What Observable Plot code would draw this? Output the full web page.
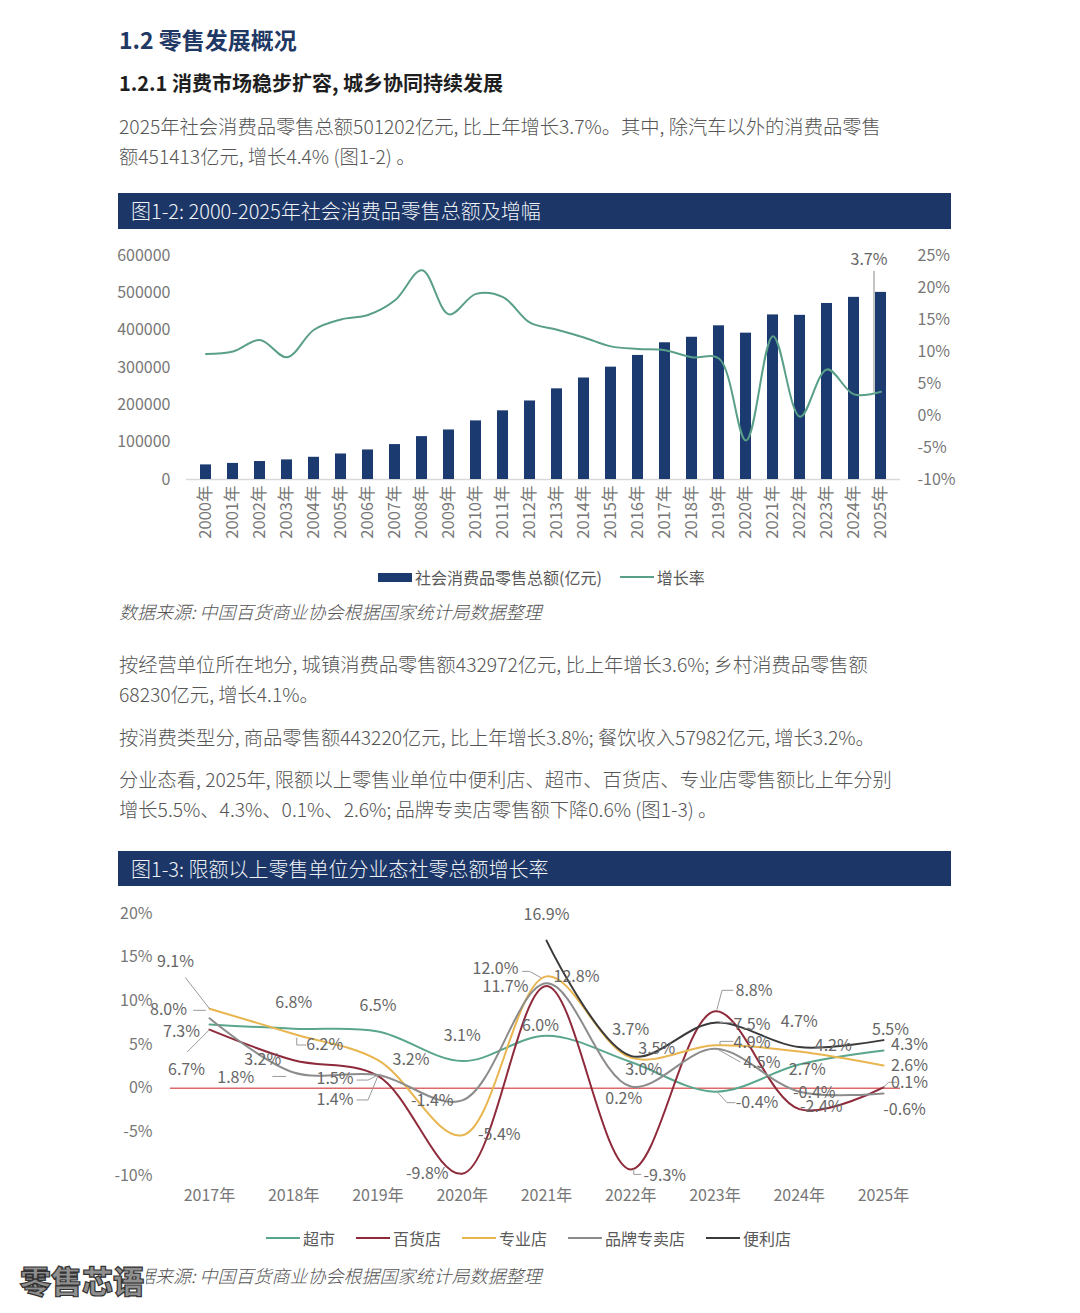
<!DOCTYPE html>
<html><head><meta charset="utf-8">
<script src="https://cdn.jsdelivr.net/npm/d3@7"></script>
<script src="https://cdn.jsdelivr.net/npm/@observablehq/plot@0.6"></script>
<style>
body{margin:0;background:#fff;font-family:"Noto Sans CJK SC","Noto Sans",sans-serif;}
#page{position:relative;width:1080px;height:1313px;overflow:hidden;background:#fff;}
.t{position:absolute;white-space:nowrap;transform:translateY(-50%);line-height:1.3;}
.banner{position:absolute;left:118px;width:833px;background:#1c3767;}
.chart{position:absolute;}
.legend{position:absolute;display:flex;align-items:center;font-size:16px;color:#595959;transform:translateY(-50%);white-space:nowrap;}
.legend .item{display:flex;align-items:center;}
</style></head><body><div id="page"></div>
<script>
// ---------- Figure 1-2 data ----------
const years1 = ["2000年","2001年","2002年","2003年","2004年","2005年","2006年","2007年","2008年","2009年","2010年","2011年","2012年","2013年","2014年","2015年","2016年","2017年","2018年","2019年","2020年","2021年","2022年","2023年","2024年","2025年"];
const retailTotal = [39106,43055,48136,52516,59501,68353,79145,93572,114830,132678,156998,183919,210307,242843,271896,300931,332316,366262,380987,411649,391981,440823,439733,471495,487895,501202];
const growthRate = [9.6,10.0,11.8,9.1,13.4,15.0,15.7,18.0,22.7,15.8,19.0,18.5,14.5,13.4,12.2,10.8,10.4,10.2,9.1,8.9,-3.9,12.4,-0.2,7.2,3.3,3.7];
const leftTicks = [0,100000,200000,300000,400000,500000,600000];
const rightTicks = [-10,-5,0,5,10,15,20,25];
const legend1Names = ["社会消费品零售总额(亿元)","增长率"];

// ---------- Figure 1-3 data ----------
const years2 = [2017,2018,2019,2020,2021,2022,2023,2024,2025];
const seriesNames = ["超市","百货店","专业店","品牌专卖店","便利店"];
const supermarket = [7.3,6.8,6.5,3.1,6.0,3.0,-0.4,2.7,4.3];
const deptStore   = [6.7,3.2,1.4,-9.8,11.7,-9.3,8.8,-2.4,0.1];
const specialty   = [9.1,6.2,3.2,-5.4,12.8,3.5,4.9,4.2,2.6];
const brandStore  = [8.0,1.8,1.5,-1.4,12.0,0.2,4.5,-0.4,-0.6];
const convenience = [null,null,null,null,16.9,3.7,7.5,4.7,5.5];
const pctTicks = [-10,-5,0,5,10,15,20];

// ---------- styles ----------
const navy = "#1b3a70";
const growthColor = "#5a9f88";
const seriesColors = ["#5aa68c","#8e2a3a","#e8b54e","#8c8c8c","#3a3a3a"];
const FONT = '"Noto Sans CJK SC","Noto Sans",sans-serif';

const page = document.getElementById("page");
function addText(txt, x, cy, css){
  const d = document.createElement("div");
  d.className = "t"; d.textContent = txt;
  d.style.left = x + "px"; d.style.top = cy + "px";
  Object.assign(d.style, css || {});
  page.appendChild(d); return d;
}
const h1 = {fontSize:"23px",fontWeight:"700",color:"#1f3864"};
const h2 = {fontSize:"20px",fontWeight:"700",color:"#1e1e1e"};
const body = {fontSize:"19.3px",fontWeight:"300",color:"#555"};
const src = {fontSize:"18px",fontWeight:"300",fontStyle:"italic",color:"#555"};

addText("1.2 零售发展概况",119,40,h1);
addText("1.2.1 消费市场稳步扩容, 城乡协同持续发展",119,83,h2);
addText("2025年社会消费品零售总额501202亿元, 比上年增长3.7%。其中, 除汽车以外的消费品零售",119,127,body);
addText("额451413亿元, 增长4.4% (图1-2) 。",119,157,body);

function banner(txt, top, h){
  const b = document.createElement("div");
  b.className = "banner"; b.style.top = top+"px"; b.style.height = h+"px";
  page.appendChild(b);
  addText(txt,131,top+h/2,{fontSize:"20px",fontWeight:"300",color:"#f2f4f8"});
}
banner("图1-2: 2000-2025年社会消费品零售总额及增幅",193,36);

// ---------- Chart 1 ----------
const data1 = years1.map((year,i)=>({year, total: retailTotal[i], growth: growthRate[i]}));
const yMax = 600000, gMin = -10, gMax = 25;
const g2y = g => (g - gMin) / (gMax - gMin) * yMax;
const y2g = v => v / yMax * (gMax - gMin) + gMin;
const H1 = 320, mT1 = 15, mB1 = 81;
const pxToY1 = yMax / (H1 - mT1 - mB1);
const last1 = data1[data1.length-1];

const chart1 = Plot.plot({
  width: 860, height: H1,
  marginTop: mT1, marginBottom: mB1, marginLeft: 76, marginRight: 70,
  style: {fontFamily: FONT, fontSize: "16px", color: "#777", background: "transparent", overflow: "visible"},
  x: {type: "band", domain: years1, paddingInner: 0.6, paddingOuter: 0.3},
  y: {domain: [0, yMax]},
  marks: [
    Plot.axisY({ticks: leftTicks, tickSize: 0, tickPadding: 16, tickFormat: d => String(d), label: null}),
    Plot.axisY({anchor: "right", ticks: rightTicks.map(g2y), tickSize: 0, tickPadding: 17, tickFormat: v => Math.round(y2g(v)) + "%", label: null}),
    Plot.axisX({tickSize: 0, tickRotate: -90, tickPadding: 6, label: null, fontSize: 16.5}),
    Plot.ruleY([0], {stroke: "#d9d9d9", strokeWidth: 1.5}),
    Plot.barY(data1, {x: "year", y: "total", fill: navy}),
    Plot.line(data1, {x: "year", y: d => g2y(d.growth), stroke: growthColor, strokeWidth: 2, curve: "catmull-rom"}),
    Plot.link([last1], {x1: "year", x2: "year", y1: d => g2y(d.growth), y2: d => g2y(d.growth) + 121 * pxToY1, stroke: "#8a8a8a", strokeWidth: 1, dx: -7}),
    Plot.text([last1], {x: "year", y: d => g2y(d.growth), text: d => d.growth.toFixed(1) + "%", dx: -12, dy: -132, fill: "#666", fontSize: 16})
  ]
});
chart1.classList.add("chart");
chart1.style.left = "110px"; chart1.style.top = "240px";
page.appendChild(chart1);

function legend(items, left, cy){
  const L = document.createElement("div");
  L.className = "legend"; L.style.left = left+"px"; L.style.top = cy+"px";
  items.forEach((it,i)=>{
    const s = document.createElement("div"); s.className = "item";
    if (i>0) s.style.marginLeft = it.gap + "px";
    const sw = document.createElement("div");
    sw.style.width = it.w + "px"; sw.style.height = it.h + "px"; sw.style.background = it.color; sw.style.marginRight = "3px";
    const tx = document.createElement("span"); tx.textContent = it.name;
    s.appendChild(sw); s.appendChild(tx); L.appendChild(s);
  });
  page.appendChild(L);
}
legend([{name: legend1Names[0], color: navy, w: 34, h: 9, gap: 0},
        {name: legend1Names[1], color: growthColor, w: 34, h: 2, gap: 18}], 378, 577);

addText("数据来源: 中国百货商业协会根据国家统计局数据整理",119,612,src);

addText("按经营单位所在地分, 城镇消费品零售额432972亿元, 比上年增长3.6%; 乡村消费品零售额",119,665,body);
addText("68230亿元, 增长4.1%。",119,695,body);
addText("按消费类型分, 商品零售额443220亿元, 比上年增长3.8%; 餐饮收入57982亿元, 增长3.2%。",119,738,body);
addText("分业态看, 2025年, 限额以上零售业单位中便利店、超市、百货店、专业店零售额比上年分别",119,780,body);
addText("增长5.5%、4.3%、0.1%、2.6%; 品牌专卖店零售额下降0.6% (图1-3) 。",119,810,body);

banner("图1-3: 限额以上零售单位分业态社零总额增长率",851,35);

// ---------- Chart 2 ----------
const seriesValues = [supermarket, deptStore, specialty, brandStore, convenience];
const rows2 = [];
seriesNames.forEach((name,s)=>years2.forEach((year,i)=>{
  const v = seriesValues[s][i];
  if (v !== null) rows2.push({name, year, value: v});
}));
const valueOf = (name, year) => seriesValues[seriesNames.indexOf(name)][years2.indexOf(year)];

// label offsets in px (dx, dy) from each labelled point
const labelOffsets = [
 ["专业店",2017,-34,-47],["品牌专卖店",2017,-41,-8],["超市",2017,-28,7],["百货店",2017,-23,40],
 ["超市",2018,0,-26],["专业店",2018,31,11],["百货店",2018,-31,0],["品牌专卖店",2018,-58,5],
 ["超市",2019,0,-26],["专业店",2019,33,0],["品牌专卖店",2019,-43,4],["百货店",2019,-43,24],
 ["超市",2020,0,-25],["品牌专卖店",2020,-30,0],["专业店",2020,37,0],["百货店",2020,-35,0],
 ["便利店",2021,0,-26],["品牌专卖店",2021,-51,-14],["百货店",2021,-41,1],["专业店",2021,30,0],["超市",2021,-6,-10],
 ["便利店",2022,0,-26],["专业店",2022,26,-9],["超市",2022,13,8],["品牌专卖店",2022,-7,12],["百货店",2022,34,6],
 ["百货店",2023,39,-20],["便利店",2023,37,2],["专业店",2023,37,-2],["品牌专卖店",2023,47,14],["超市",2023,42,11],
 ["便利店",2024,0,-25],["专业店",2024,34,-6],["超市",2024,8,5],["品牌专卖店",2024,15,1],["百货店",2024,22,-2],
 ["便利店",2025,7,-10],["超市",2025,26,-6],["专业店",2025,26,0],["百货店",2025,26,-4],["品牌专卖店",2025,21,16]
];
// leader lines: px offsets from the labelled point
const leaders = [
 ["专业店",2017,[[0,0],[-24,-31]]],
 ["品牌专卖店",2017,[[-4,-8],[-16,-8]]],
 ["百货店",2017,[[0,0],[-22,22]]],
 ["专业店",2018,[[3,4],[3,11],[12,11]]],
 ["品牌专卖店",2018,[[-8,4],[-21,4]]],
 ["品牌专卖店",2019,[[0,0],[-10,5],[-21,5]]],
 ["百货店",2019,[[0,0],[-10,24],[-21,24]]],
 ["品牌专卖店",2021,[[-6,-6],[-17,-12],[-24,-12]]],
 ["百货店",2022,[[3,0],[3,5],[10,5]]],
 ["百货店",2023,[[2,-2],[7,-21],[18,-21]]],
 ["便利店",2023,[[5,0],[18,0]]],
 ["专业店",2023,[[5,-1],[5,-4],[18,-4]]],
 ["品牌专卖店",2023,[[2,0],[25,13]]],
 ["超市",2023,[[2,0],[12,11],[20,11]]],
 ["百货店",2025,[[0,0],[5,-5],[13,-5]]]
];

const W2 = 860, H2 = 320, mT2 = 18, mB2 = 40, xR = [99, 773];
const yDom = [-10, 20];
const kx = (years2[years2.length-1] - years2[0]) / (xR[1] - xR[0]);
const ky = (yDom[1] - yDom[0]) / (H2 - mB2 - mT2);
const leaderRows = [];
leaders.forEach(([name,year,pts],k)=>{
  const v = valueOf(name,year);
  pts.forEach(([dx,dy])=>leaderRows.push({id:k, x: year + dx*kx, y: v - dy*ky}));
});

const labelMarks = labelOffsets.map(([name,year,dx,dy]) =>
  Plot.text([{year, value: valueOf(name,year)}], {x: "year", y: "value", text: d => d.value.toFixed(1) + "%", dx, dy, fill: "#666", fontSize: 16}));

const chart2 = Plot.plot({
  width: W2, height: H2,
  marginTop: mT2, marginBottom: mB2, marginLeft: 60, marginRight: 70,
  style: {fontFamily: FONT, fontSize: "16px", color: "#777", background: "transparent", overflow: "visible"},
  x: {domain: [years2[0], years2[years2.length-1]], range: xR},
  y: {domain: yDom},
  color: {domain: seriesNames, range: seriesColors},
  marks: [
    Plot.axisY({ticks: pctTicks, tickSize: 0, tickPadding: 18, tickFormat: d => d + "%", label: null}),
    Plot.axisX({ticks: years2, tickSize: 0, tickPadding: 14, tickFormat: d => d + "年", label: null}),
    Plot.ruleY([0], {stroke: "#dd6a6a", strokeWidth: 1.5}),
    Plot.line(rows2, {x: "year", y: "value", z: "name", stroke: "name", strokeWidth: 2, curve: "catmull-rom"}),
    Plot.line(leaderRows, {x: "x", y: "y", z: "id", stroke: "#9a9a9a", strokeWidth: 1}),
    ...labelMarks
  ]
});
chart2.classList.add("chart");
chart2.style.left = "110px"; chart2.style.top = "895px";
page.appendChild(chart2);

legend(seriesNames.map((name,i)=>({name, color: seriesColors[i], w: 34, h: 2, gap: i===0?0:21})), 266, 1238);

addText("数据来源: 中国百货商业协会根据国家统计局数据整理",119,1276,src);
addText("零售芯语",20,1280,{fontSize:"31px",fontWeight:"900",color:"#8f8f8f",webkitTextStroke:"1.2px #333",background:"#fff",paddingRight:"2px"});
</script>
</body></html>
